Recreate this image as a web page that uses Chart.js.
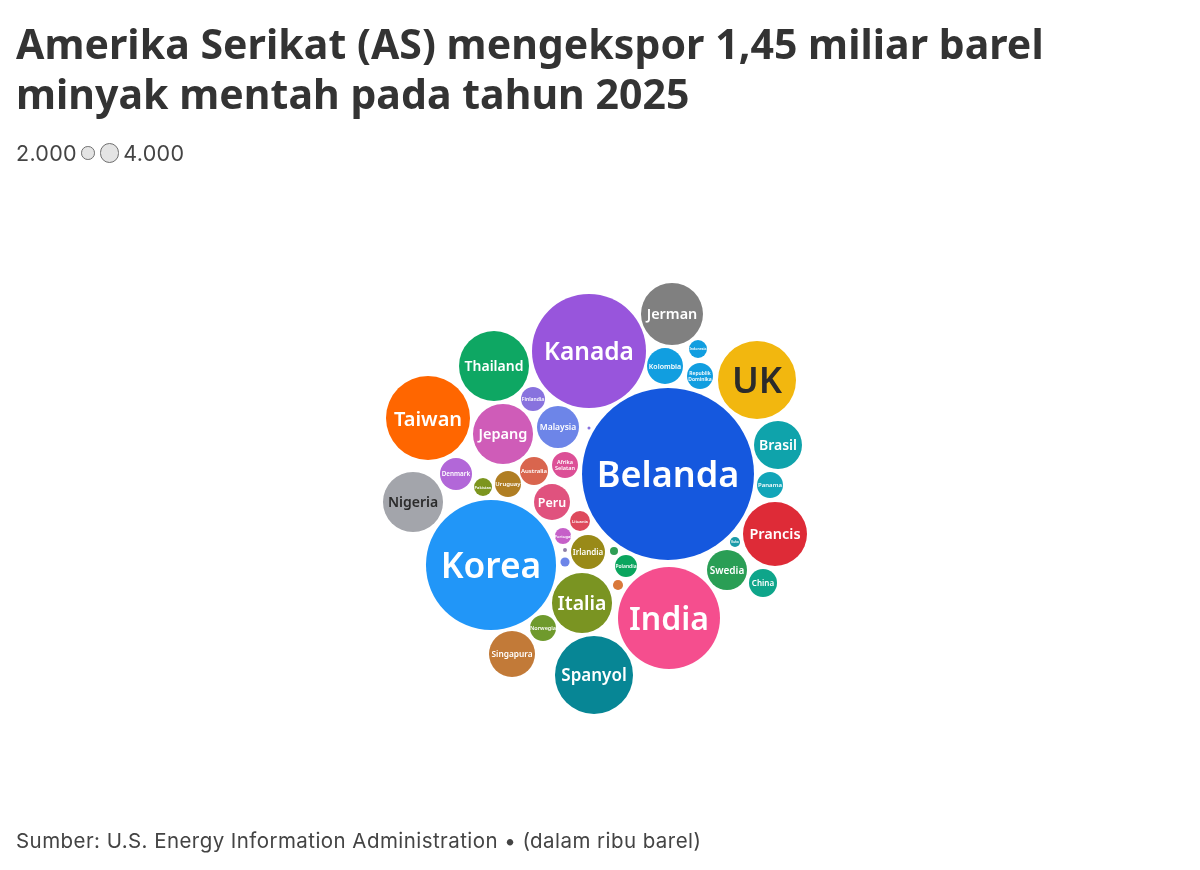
<!DOCTYPE html>
<html lang="id">
<head>
<meta charset="utf-8">
<title>Ekspor minyak mentah AS 2025</title>
<script src="https://cdn.jsdelivr.net/npm/chart.js@4"></script>
<style>
  html, body { margin: 0; padding: 0; background: #fff; overflow: hidden; }
  body { width: 1200px; height: 870px; position: relative; font-family: "Noto Sans", sans-serif; color: #333; }
  #grafik { position: absolute; left: 0; top: 0; }
  #judul { position: absolute; left: 16px; top: 18px; margin: 0; font-size: 41px; line-height: 50px; font-weight: 700; color: #333; white-space: nowrap; letter-spacing: 0.05px; }
  #skala { position: absolute; left: 16px; top: 140px; font-family: Inter, sans-serif; font-size: 21.5px; letter-spacing: 0.3px; line-height: 26px; display: flex; align-items: center; gap: 4.5px; color: #444; }
  #skala i { display: block; border: 1.5px solid #6e6e6e; background: #e4e4e4; border-radius: 50%; box-sizing: border-box; }
  #sumber { position: absolute; left: 16px; top: 828px; font-family: Inter, sans-serif; font-size: 20.5px; letter-spacing: 0.44px; line-height: 26px; color: #444; white-space: nowrap; }
</style>
</head>
<body>
<canvas id="grafik" width="1200" height="870"></canvas>
<h1 id="judul">Amerika Serikat (AS) mengekspor 1,45 miliar barel<br>minyak mentah pada tahun 2025</h1>
<div id="skala"><span>2.000</span><i id="kecil"></i><i id="besar"></i><span>4.000</span></div>
<div id="sumber">Sumber: U.S. Energy Information Administration • (dalam ribu barel)</div>
<script>
// Data: ekspor per negara (ribu barel)
const negara = ['Belanda', 'Korea', 'Kanada', 'India', 'Taiwan', 'UK', 'Spanyol', 'Thailand', 'Prancis', 'Jerman',
    'Nigeria', 'Jepang', 'Italia', 'Brasil', 'Singapura', 'Malaysia', 'Swedia', 'Peru', 'Kolombia', 'Irlandia',
    'Denmark', 'Australia', 'China', 'Uruguay', 'Afrika\nSelatan', 'Republik\nDominika', 'Panama', 'Norwegia', 'Finlandia', 'Polandia',
    'Lituania', 'Indonesia', 'Pakistan', 'Portugal', 'Kuba', 'Rumania', 'Yunani', 'Ghana', 'Kroasia', 'Malta'];
const ekspor = [320000, 183000, 140700, 112600, 76400, 65900, 65900, 53000, 44300, 41600,
    39000, 39000, 39000, 24900, 22900, 19100, 17300, 14000, 14000, 12500,
    11100, 8500, 8500, 7300, 7300, 7300, 7300, 7300, 6200, 5200,
    4300, 3500, 3500, 2800, 1100, 700, 900, 1100, 170, 100];
// Letak hasil susunan lingkaran (unit sumbu = piksel gambar)
const posisiX = [668, 491, 589, 669, 428, 757, 594, 494, 775, 672,
    413, 503, 582, 778, 512, 558, 727, 552, 665, 588,
    456, 534, 763, 508, 565, 700, 770, 543, 533, 626,
    580, 698, 483, 563, 735, 614, 565, 618, 565, 589];
const posisiY = [474, 565, 351, 618, 418, 380, 675, 366, 534, 314,
    502, 434, 603, 445, 654, 427, 570, 502, 366, 552,
    474, 471, 583, 484, 465, 376, 485, 628, 399, 566,
    521, 349, 487, 536, 542, 551, 562, 585, 550, 428];
const warna = ['#1558de', '#2196f8', '#9855dc', '#f54e8e', '#ff6600', '#f2b70f', '#078695', '#0ea763', '#de2b37', '#808080',
    '#a3a5ab', '#cf5cb8', '#7a9422', '#0fa3ab', '#c27a38', '#6d85e8', '#2a9e55', '#e0527e', '#119ee0', '#998a18',
    '#b267d8', '#d9654e', '#0ea58a', '#b07e23', '#dc4f96', '#119ee0', '#12a5b8', '#6f9a2d', '#8872de', '#0ba55e',
    '#de4a5c', '#119ee0', '#7c951e', '#c660c8', '#1a9aa8', '#2f9e55', '#6d85e8', '#d9783a', '#8f7fa8', '#8872de'];
const ukuranLabel = [36, 35.3, 24.5, 32, 20, 36, 17, 14, 14.5, 14.4,
    14, 14.5, 19.5, 14, 8.3, 8.5, 10, 12.5, 7, 8,
    6.3, 6, 8, 6, 5.5, 5, 6, 5.5, 5, 5,
    4, 3.5, 4, 4, 3, 0, 0, 0, 0, 0];
const labelGelap = ['UK', 'Nigeria'];

// luas lingkaran sebanding dengan nilai
const faktor = 0.152;
const jariJari = v => faktor * Math.sqrt(v);

document.getElementById('kecil').style.cssText = 'width:' + jariJari(2000) * 2 + 'px;height:' + jariJari(2000) * 2 + 'px';
document.getElementById('besar').style.cssText = 'width:' + jariJari(4000) * 2 + 'px;height:' + jariJari(4000) * 2 + 'px';

const labelLingkaran = {
    id: 'labelLingkaran',
    afterDatasetsDraw(chart) {
        const ctx = chart.ctx;
        const titik = chart.getDatasetMeta(0).data;
        ctx.save();
        ctx.textAlign = 'center';
        ctx.textBaseline = 'middle';
        negara.forEach((nama, i) => {
            if (!ukuranLabel[i]) return;
            const gelap = labelGelap.includes(nama);
            ctx.font = '600 ' + ukuranLabel[i] + 'px "Noto Sans"';
            ctx.fillStyle = gelap ? '#2b2b2b' : '#ffffff';
            const baris = nama.split('\n');
            baris.forEach((teks, b) => {
                const geser = (b - (baris.length - 1) / 2) * ukuranLabel[i] * 1.1 + ukuranLabel[i] * 0.09;
                ctx.fillText(teks, titik[i].x, titik[i].y + geser);
            });
        });
        ctx.restore();
    }
};

new Chart(document.getElementById('grafik').getContext('2d'), {
    type: 'bubble',
    data: {
        datasets: [{
            label: 'Ekspor (ribu barel)',
            data: negara.map((n, i) => ({ x: posisiX[i], y: posisiY[i], r: jariJari(ekspor[i]) })),
            backgroundColor: warna,
            borderWidth: 0
        }]
    },
    options: {
        responsive: false,
        animation: false,
        layout: { padding: 0, autoPadding: false },
        scales: {
            x: { type: 'linear', display: false, min: 0, max: 1200 },
            y: { type: 'linear', display: false, min: 0, max: 870, reverse: true }
        },
        plugins: {
            legend: { display: false },
            tooltip: { enabled: false }
        }
    },
    plugins: [labelLingkaran]
});
</script>
</body>
</html>
